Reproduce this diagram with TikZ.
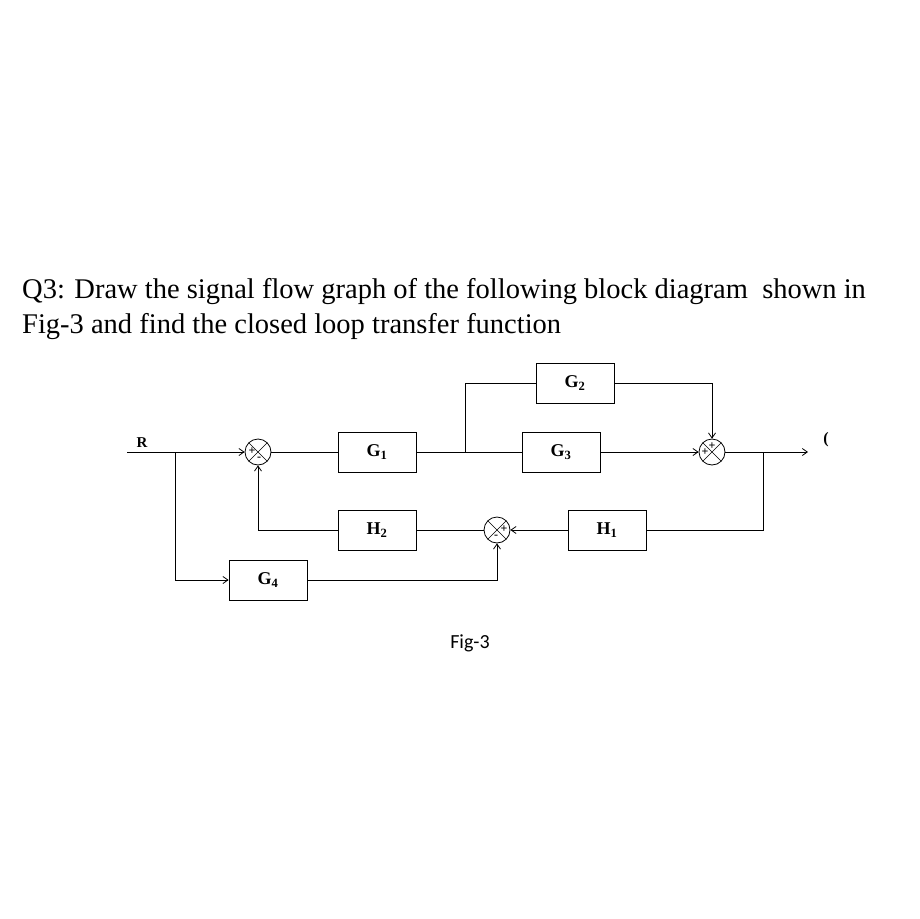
\documentclass[tikz,border=0pt]{standalone}
\usepackage{fontspec}
\setmainfont{Liberation Serif}
\newfontfamily\figfont{Carlito}
\usetikzlibrary{arrows.meta}
\begin{document}
\begin{tikzpicture}[x=1pt,y=-1pt,
  blk/.style={draw,line width=0.8pt,minimum width=78pt,minimum height=40pt,font=\bfseries\fontsize{18}{18}\selectfont},
  sumj/.style={draw,circle,line width=0.8pt,minimum size=26pt,inner sep=0pt,path picture={
    \draw[line width=0.6pt] (path picture bounding box.south west)--(path picture bounding box.north east)
      (path picture bounding box.north west)--(path picture bounding box.south east);}},
  sg/.style={font=\bfseries\fontsize{12}{12}\selectfont,inner sep=0.5pt},
  ln/.style={line width=0.8pt},
  ar/.style={ln,-{Straight Barb[length=5pt,width=7pt]}}]
\useasboundingbox[fill=white] (0,0) rectangle (919,919);
\node[anchor=base west,inner sep=0pt,font=\fontsize{28.5}{30}\selectfont] (t1) at (22,298) {Q3: Draw the signal flow graph of the following block diagram\ \ shown in};
\node[anchor=base west,inner sep=0pt,font=\fontsize{28.5}{30}\selectfont] (t2) at (22,333) {Fig-3 and find the closed loop transfer function};
\node[blk] (g1) at (377,452) {G\textsubscript{1}};
\node[blk] (g2) at (575,383) {G\textsubscript{2}};
\node[blk] (g3) at (561,452) {G\textsubscript{3}};
\node[blk] (h2) at (377,530) {H\textsubscript{2}};
\node[blk] (h1) at (607,530) {H\textsubscript{1}};
\node[blk] (g4) at (268,580) {G\textsubscript{4}};
\node[sumj] (s1) at (258,452) {};
\node[sumj] (s2) at (712,452) {};
\node[sumj] (s3) at (497,530) {};
\node[font=\bfseries\fontsize{15}{15}\selectfont] (R) at (142,443) {R};
\node[font=\bfseries\fontsize{16}{16}\selectfont] (C) at (826,440) {(};
\coordinate (rin) at (127,452);
\coordinate (rb) at (175,452);
\coordinate (br) at (465,452);
\coordinate (to) at (763,452);
\coordinate (cout) at (808,452);
\draw[ar] (rin)--(s1.west);
\draw[ln] (s1.east)--(g1.west);
\draw[ln] (g1.east)--(g3.west);
\draw[ln] (br)|-(g2.west);
\draw[ar] (g2.east)-|(s2.north);
\draw[ar] (g3.east)--(s2.west);
\draw[ar] (s2.east)--(cout);
\draw[ln] (to)|-(h1.east);
\draw[ar] (h1.west)--(s3.east);
\draw[ln] (s3.west)--(h2.east);
\draw[ar] (h2.west)-|(s1.south);
\draw[ar] (rb)|-(g4.west);
\draw[ar] (g4.east)-|(s3.south);
\node[sg] at ([shift={(-6,-1)}]s1.center) {+};
\node[sg] at ([shift={(1,7)}]s1.center) {-};
\node[sg] at ([shift={(-7,0)}]s2.center) {+};
\node[sg] at ([shift={(0,-6)}]s2.center) {+};
\node[sg] at ([shift={(7,-1)}]s3.center) {+};
\node[sg] at ([shift={(-1,7)}]s3.center) {-};
\node[font=\figfont\fontsize{20}{20}\selectfont] (fig) at (470,643) {Fig-3};
\end{tikzpicture}
\end{document}
